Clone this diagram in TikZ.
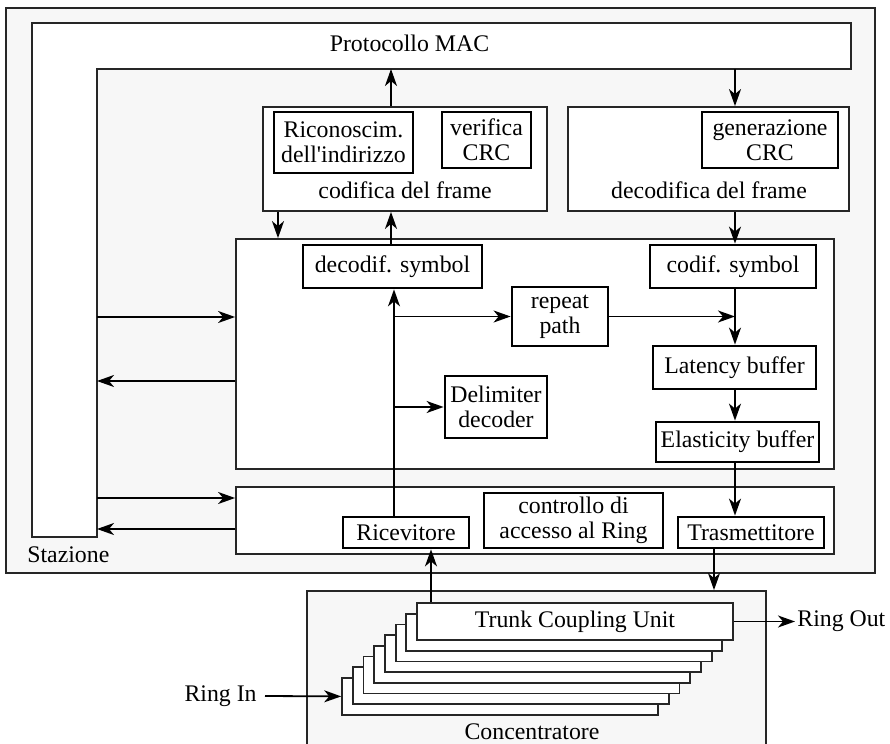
\documentclass[tikz,border=0pt]{standalone}
\usepackage{fontspec}
\setmainfont{Liberation Serif}
\usetikzlibrary{arrows.meta}

\begin{document}
\begin{tikzpicture}[
		x=0.5pt, y=-0.5pt,
		font=\fontsize{11.9}{12.5}\selectfont,
		frame/.style={draw=black!85, line width=0.9pt, fill=white, inner sep=0pt},
		box/.style={draw=black, line width=1.4pt, fill=white, inner sep=0pt, align=center},
		tcu/.style={draw=black!85, line width=0.9pt, fill=white, inner sep=0pt, minimum width=158pt, minimum height=18.5pt},
		lbl/.style={inner sep=0pt},
		tip/.style={-{Stealth[length=8.5pt, width=6pt, inset=2.5pt]}},
		arr/.style={tip, line width=0.9pt},
		thin line/.style={tip, line width=0.7pt}
		]
		\useasboundingbox (0,0) rectangle (890,744);
		\clip (0,0) rectangle (890,744);
		
		% ---------------------------------------------------------
		% Stazione and the MAC protocol
		% ---------------------------------------------------------
		\draw[draw=black!85, line width=0.9pt, fill=black!3] (6,8) rectangle (875,573);
		\node[lbl, anchor=west] (stazlbl) at (27,555) {Stazione};
		
		\draw[draw=black!85, line width=0.9pt, fill=white]
		(32,23) -- (851,23) -- (851,69) -- (97,69) -- (97,537) -- (32,537) -- cycle;
		\node[lbl] (mac) at (409.5,43) {Protocollo MAC};
		\coordinate (macbot) at (0,69);
		
		% columns and rows of the connectors
		\coordinate (colA) at (391,0);
		\coordinate (colB) at (735,0);
		\coordinate (colC) at (278,0);
		\coordinate (colD) at (394,0);
		\coordinate (colE) at (714,0);
		\coordinate (colF) at (431,0);
		\coordinate (row1) at (97,317);
		\coordinate (row2) at (97,381);
		\coordinate (row3) at (97,498);
		\coordinate (row4) at (97,529);
		
		% ---------------------------------------------------------
		% Frame level
		% ---------------------------------------------------------
		\node[frame, minimum width=142pt, minimum height=52pt] (codifica) at (405,159) {};
		\node[box, minimum width=69.5pt, minimum height=30.5pt] (ricon) at (343.5,142.5) {Riconoscim.\\dell\textquotesingle indirizzo};
		\node[box, minimum width=44.5pt, minimum height=28pt] (vercrc) at (486.5,140) {verifica\\CRC};
		\node[lbl] (codlbl) at (405,190) {codifica del frame};
		
		\node[frame, minimum width=140.5pt, minimum height=52pt] (decodifica) at (708.5,159) {};
		\node[box, minimum width=68pt, minimum height=28pt] (gencrc) at (770,140) {generazione\\CRC};
		\node[lbl] (decodlbl) at (709,190) {decodifica del frame};
		
		% ---------------------------------------------------------
		% Symbol level
		% ---------------------------------------------------------
		\node[frame, minimum width=299pt, minimum height=115pt] (middle) at (535,354) {};
		\node[box, minimum width=89.5pt, minimum height=21.5pt] (decsym) at (392.5,266.5) {decodif. symbol};
		\node[box, minimum width=83pt, minimum height=21.5pt] (codsym) at (733,266.5) {codif. symbol};
		\node[box, minimum width=48pt, minimum height=29.5pt] (repeat) at (560,316.5) {repeat\\path};
		\node[box, minimum width=81.5pt, minimum height=21.5pt] (latency) at (734.5,367.5) {Latency buffer};
		\node[box, minimum width=51pt, minimum height=31pt] (delim) at (496,407) {Delimiter\\decoder};
		\node[box, minimum width=81.5pt, minimum height=20pt] (elastic) at (737.5,442) {Elasticity buffer};
		
		% ---------------------------------------------------------
		% Physical level
		% ---------------------------------------------------------
		\node[frame, minimum width=299pt, minimum height=33.5pt] (lower) at (535,520.5) {};
		\node[box, minimum width=63pt, minimum height=15.5pt] (ricev) at (406,532.5) {Ricevitore};
		\node[box, minimum width=89.5pt, minimum height=27.5pt] (ctrl) at (573.5,520.5) {controllo di\\accesso al Ring};
		\node[box, minimum width=73pt, minimum height=15.5pt] (trasm) at (751,532.5) {Trasmettitore};
		
		% ---------------------------------------------------------
		% Concentratore with the stack of TCUs
		% ---------------------------------------------------------
		\node[draw=black!85, line width=0.9pt, fill=black!3, inner sep=0pt,
		minimum width=229.5pt, minimum height=80pt] (conc) at (536.5,671) {};
		\node[lbl] (conclbl) at (532,732) {Concentratore};
		\foreach \k in {7,...,1} {
			\node[tcu] (tcu\k) at ({575-10.7*\k},{621.5+10.7*\k}) {};
		}
		\node[tcu] (tcu0) at (575,621.5) {Trunk Coupling Unit};
		\node[inner sep=4pt, anchor=east] (ringin) at (265,696) {Ring In};
		\node[inner sep=1pt, anchor=west] (ringout) at (795,621.5) {Ring Out};
		
		% ---------------------------------------------------------
		% Connectors
		% ---------------------------------------------------------
		\draw[arr] (colA |- codifica.north) -- (colA |- macbot);
		\draw[arr] (colB |- macbot) -- (colB |- decodifica.north);
		\draw[arr] (colC |- codifica.south) -- (colC |- middle.north);
		\draw[arr] (colA |- decsym.north) -- (colA |- codifica.south);
		\draw[arr] (colB |- decodifica.south) -- (colB |- codsym.north);
		
		\draw[arr] (row1) -- (row1 -| middle.west);
		\draw[arr] (row2 -| middle.west) -- (row2);
		\draw[arr] (row3) -- (row3 -| lower.west);
		\draw[arr] (row4 -| lower.west) -- (row4);
		
		\draw[thin line] (colD |- ricev.north) -- (colD |- decsym.south);
		\draw[arr] (colD |- repeat.west) -- (repeat.west);
		\draw[arr] (colD |- delim.west) -- (delim.west);
		\draw[arr] (repeat.east) -- (colB |- repeat.east);
		\draw[arr] (colB |- codsym.south) -- (colB |- latency.north);
		\draw[arr] (colB |- latency.south) -- (colB |- elastic.north);
		\draw[arr] (colB |- elastic.south) -- (colB |- trasm.north);
		
		\draw[arr] (colE |- trasm.south) -- (colE |- conc.north);
		\draw[arr] (colF |- tcu0.north) -- (colF |- ricev.south);
		\draw[arr] (ringin.east) -- (tcu7.west);
		\draw[arr] (tcu0.east) -- (ringout.west);
		
	\end{tikzpicture}
\end{document}
